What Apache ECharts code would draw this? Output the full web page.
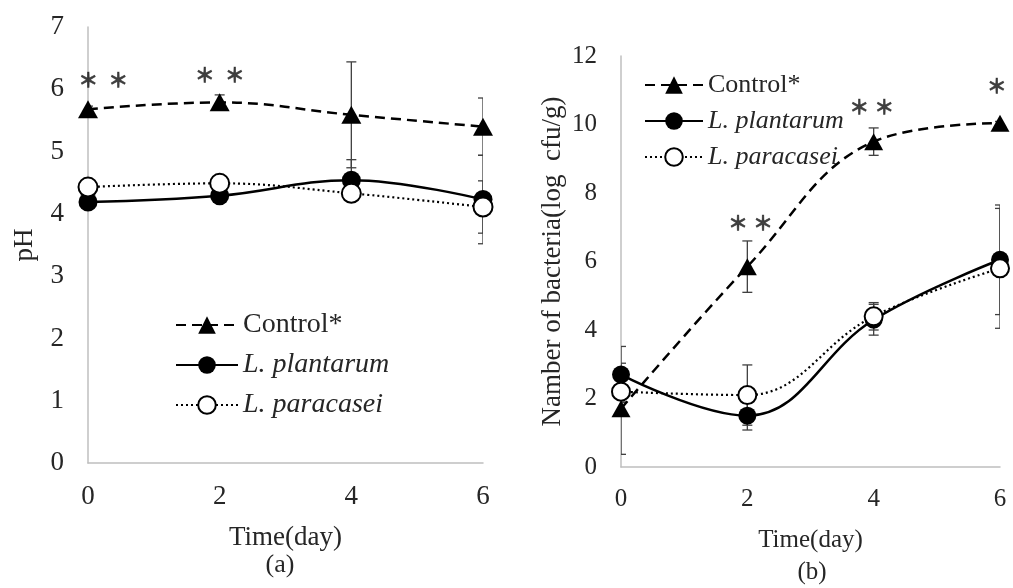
<!DOCTYPE html>
<html>
<head>
<meta charset="utf-8">
<script src="https://cdn.jsdelivr.net/npm/echarts@6/dist/echarts.min.js"></script>
<style>
html,body{margin:0;padding:0;background:#fff;}
#chart{width:1013px;height:588px;}
</style>
</head>
<body>
<div id="chart"></div>
<script>
// ---- data ----
const days = [0, 2, 4, 6];
const seriesNames = ['Control*', 'L. plantarum', 'L. paracasei'];

// (a) pH
const phControl = [5.68, 5.79, 5.59, 5.40];
const phControlErr = [0.05, 0.12, 0.85, 0.46];
const phPlantarum = [4.19, 4.29, 4.54, 4.23];
const phPlantarumErr = [0.05, 0.05, 0.33, 0.71];
const phParacasei = [4.43, 4.49, 4.33, 4.11];
const phParacaseiErr = [0.05, 0.05, 0.12, 0.42];
const phTicks = ['0', '1', '2', '3', '4', '5', '6', '7'];

// (b) bacteria (log cfu/g)
const bacControl = [1.70, 5.85, 9.50, 10.04];
const bacControlErr = [1.33, 0.75, 0.40, 0.05];
const bacPlantarum = [2.70, 1.50, 4.30, 6.05];
const bacPlantarumErr = [0.82, 0.42, 0.45, 1.60];
const bacParacasei = [2.20, 2.10, 4.40, 5.80];
const bacParacaseiErr = [0.30, 0.88, 0.40, 1.75];

// significance marks: [day, value, count]
const phStars = [[0.23, 6.15, 2], [2.0, 6.23, 2]];
const bacStars = [[2.05, 7.12, 2], [3.97, 10.5, 2], [5.95, 11.1, 1]];

const FONT = 'Liberation Serif';
const TXT = '#262626';
const AXIS = '#bfbfbf';

const chart = echarts.init(document.getElementById('chart'), null, {renderer: 'canvas'});

function pairs(xs, ys) { return xs.map((x, i) => [x, ys[i]]); }
function errData(xs, ys, es) { return xs.map((x, i) => [x, ys[i], es[i]]); }

function errSeries(name, gi, xs, ys, es) {
  return {
    type: 'custom', name: name + ' err', xAxisIndex: gi, yAxisIndex: gi, z: 1, clip: true,
    silent: true,
    data: errData(xs, ys, es),
    renderItem: function (params, api) {
      const x = api.value(0), y = api.value(1), e = api.value(2);
      const top = api.coord([x, y + e]);
      const bot = api.coord([x, y - e]);
      const cw = 5;
      const st = {stroke: '#404040', lineWidth: 1.3};
      return {
        type: 'group',
        children: [
          {type: 'line', shape: {x1: top[0], y1: top[1], x2: bot[0], y2: bot[1]}, style: st},
          {type: 'line', shape: {x1: top[0] - cw, y1: top[1], x2: top[0] + cw, y2: top[1]}, style: st},
          {type: 'line', shape: {x1: bot[0] - cw, y1: bot[1], x2: bot[0] + cw, y2: bot[1]}, style: st}
        ]
      };
    }
  };
}

function lineSeries(kind, gi, ys, size) {
  const base = {
    type: 'line', xAxisIndex: gi, yAxisIndex: gi, smooth: 0.4, z: 3,
    data: pairs(days, ys), showSymbol: true, symbolSize: size, silent: true,
    emphasis: {disabled: true}
  };
  if (kind === 0) {
    return Object.assign(base, {
      name: seriesNames[0], symbol: 'triangle', symbolSize: [size + 2, size],
      lineStyle: {color: '#000', width: 2.5, type: [10, 6]},
      itemStyle: {color: '#000'}
    });
  } else if (kind === 1) {
    return Object.assign(base, {
      name: seriesNames[1], symbol: 'circle',
      lineStyle: {color: '#000', width: 2.5, type: 'solid'},
      itemStyle: {color: '#000'}
    });
  }
  return Object.assign(base, {
    name: seriesNames[2], symbol: 'circle', z: 4,
    lineStyle: {color: '#000', width: 2.2, type: [2, 3]},
    itemStyle: {color: '#fff', borderColor: '#000', borderWidth: 2}
  });
}

function starSeries(gi, arr, gap, fs) {
  return {
    type: 'scatter', xAxisIndex: gi, yAxisIndex: gi, symbolSize: 0, silent: true, z: 5,
    data: arr.map(s => ({value: [s[0], s[1]], count: s[2]})),
    label: {
      show: true, position: 'inside',
      formatter: function (p) {
        return p.data.count === 2 ? '{s|＊}{g|}{s|＊}' : '{s|＊}';
      },
      rich: {
        s: {fontFamily: 'Noto Sans CJK JP', fontWeight: 'bold', fontSize: fs, color: '#111',
            textBorderColor: '#333', textBorderWidth: 0.6},
        g: {width: gap}
      }
    }
  };
}

function legendCfg(left, top, fs, iw, gap) {
  return {
    orient: 'vertical', left: left, top: top, itemWidth: iw, itemHeight: 22, itemGap: gap,
    selectedMode: false,
    textStyle: {fontFamily: FONT, fontSize: fs, color: TXT},
    data: [
      {name: seriesNames[0]},
      {name: seriesNames[1], textStyle: {fontStyle: 'italic'}},
      {name: seriesNames[2], textStyle: {fontStyle: 'italic'}}
    ]
  };
}

const xAxisBase = (gi, fs, gap) => ({
  type: 'value', gridIndex: gi, min: 0, max: 6, interval: 2,
  name: 'Time(day)', nameLocation: 'middle', nameGap: gap,
  nameTextStyle: {fontFamily: FONT, fontSize: fs, color: TXT},
  axisLine: {show: true, lineStyle: {color: AXIS, width: 1.5}},
  axisTick: {show: false}, splitLine: {show: false},
  axisLabel: {fontFamily: FONT, fontSize: fs, color: TXT, margin: 20, showMinLabel: true, showMaxLabel: true}
});

const option = {
  backgroundColor: '#fff',
  animation: false,
  grid: [
    {left: 88, top: 27, right: 530, bottom: 125, containLabel: false},
    {left: 621, top: 56, right: 13, bottom: 121, containLabel: false}
  ],
  xAxis: [xAxisBase(0, 27, 61), xAxisBase(1, 25, 61)],
  yAxis: [
    {
      type: 'value', gridIndex: 0, min: 0, max: 7, interval: 1,
      name: 'pH', nameLocation: 'middle', nameGap: 50,
      nameTextStyle: {fontFamily: FONT, fontSize: 27, color: TXT},
      axisLine: {show: true, lineStyle: {color: AXIS, width: 1.5}},
      axisTick: {show: false}, splitLine: {show: false},
      axisLabel: {fontFamily: FONT, fontSize: 27, color: TXT, margin: 24,
        formatter: v => phTicks[Math.round(v)]}
    },
    {
      type: 'value', gridIndex: 1, min: 0, max: 12, interval: 2,
      name: 'Namber of bacteria(log  cfu/g)', nameLocation: 'middle', nameGap: 55,
      nameTextStyle: {fontFamily: FONT, fontSize: 27, color: TXT},
      axisLine: {show: true, lineStyle: {color: AXIS, width: 1.5}},
      axisTick: {show: false}, splitLine: {show: false},
      axisLabel: {fontFamily: FONT, fontSize: 25, color: TXT, margin: 24}
    }
  ],
  legend: [legendCfg(170, 306, 28, 62, 12), legendCfg(639, 67, 26, 58, 10)],
  graphic: [
    {type: 'text', x: 280, y: 565, style: {text: '(a)', font: '26px "Liberation Serif"', fill: TXT, textAlign: 'center', textVerticalAlign: 'middle'}},
    {type: 'text', x: 812, y: 572, style: {text: '(b)', font: '25px "Liberation Serif"', fill: TXT, textAlign: 'center', textVerticalAlign: 'middle'}}
  ],
  series: [
    errSeries('c', 0, days, phControl, phControlErr),
    errSeries('p', 0, days, phPlantarum, phPlantarumErr),
    errSeries('q', 0, days, phParacasei, phParacaseiErr),
    lineSeries(0, 0, phControl, 18),
    lineSeries(1, 0, phPlantarum, 19),
    lineSeries(2, 0, phParacasei, 19),
    starSeries(0, phStars, 10, 20),

    errSeries('c', 1, days, bacControl, bacControlErr),
    errSeries('p', 1, days, bacPlantarum, bacPlantarumErr),
    errSeries('q', 1, days, bacParacasei, bacParacaseiErr),
    lineSeries(0, 1, bacControl, 17),
    lineSeries(1, 1, bacPlantarum, 18),
    lineSeries(2, 1, bacParacasei, 18),
    starSeries(1, bacStars, 5, 20)
  ]
};
chart.setOption(option);
</script>
</body>
</html>
